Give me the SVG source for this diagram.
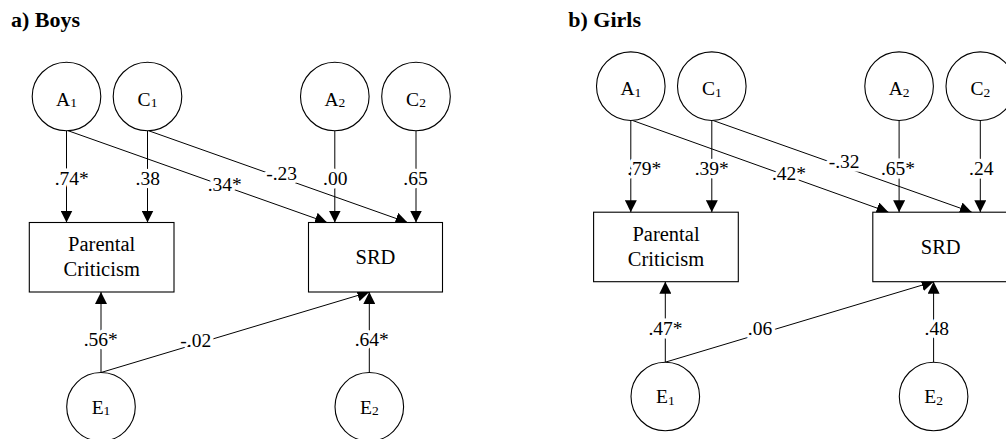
<svg xmlns="http://www.w3.org/2000/svg" width="1006" height="439" viewBox="0 0 1006 439">
  <style>
    .title { font-family: "Liberation Serif", "Times New Roman", serif; font-weight: bold; font-size: 22px; fill: #000; }
    .node { fill: #fff; stroke: #000; stroke-width: 1.1; }
    .lat { font-family: "Liberation Serif", "Times New Roman", serif; font-size: 19.5px; fill: #000; text-anchor: middle; }
    .sub { font-size: 13.5px; }
    .box { font-family: "Liberation Serif", "Times New Roman", serif; font-size: 20.5px; fill: #000; text-anchor: middle; }
    .path { stroke: #000; stroke-width: 1; fill: none; marker-end: url(#arrow); }
    .coef { font-family: "Liberation Serif", "Times New Roman", serif; font-size: 19.5px; fill: #000; text-anchor: middle;
            stroke: #fff; stroke-width: 7; stroke-linejoin: round; paint-order: stroke; }
  </style>
  <defs>
    <marker id="arrow" markerUnits="userSpaceOnUse" markerWidth="12" markerHeight="12" refX="12" refY="6" orient="auto">
      <path d="M0,0 L12,6 L0,12 z" fill="#000"/>
    </marker>
  </defs>
  <rect width="1006" height="439" fill="#fff"/>

  <!-- Panel a: boys -->
  <text class="title" x="11" y="27">a) Boys</text>

  <g id="boys-connectors">
    <line class="path" x1="66.5" y1="130.8" x2="66.5" y2="222.5"/>
    <line class="path" x1="147.5" y1="130.8" x2="147.5" y2="222.5"/>
    <line class="path" x1="334.8" y1="130.8" x2="334.8" y2="222.5"/>
    <line class="path" x1="416" y1="130.8" x2="416" y2="222.5"/>
    <line class="path" x1="68" y1="130.7" x2="327" y2="222.5"/>
    <line class="path" x1="148.5" y1="130.7" x2="407.5" y2="222.5"/>
    <line class="path" x1="101" y1="372.5" x2="101" y2="292"/>
    <line class="path" x1="101" y1="372.5" x2="369.3" y2="292"/>
    <line class="path" x1="369.3" y1="372.5" x2="369.3" y2="292"/>
    <text class="coef" x="71.7" y="185">.74*</text>
    <text class="coef" x="147.8" y="185">.38</text>
    <text class="coef" x="224.7" y="190.7">.34*</text>
    <text class="coef" x="281.7" y="180">-.23</text>
    <text class="coef" x="335.2" y="185">.00</text>
    <text class="coef" x="415.5" y="185">.65</text>
    <text class="coef" x="100.8" y="345.7">.56*</text>
    <text class="coef" x="195.8" y="346.7">-.02</text>
    <text class="coef" x="371.8" y="345.7">.64*</text>
  </g>

  <g id="boys-A1">
    <circle class="node" cx="66.5" cy="96.5" r="34.3"/>
    <text class="lat" x="66.5" y="105.5">A<tspan class="sub" dy="1.5">1</tspan></text>
  </g>
  <g id="boys-C1">
    <circle class="node" cx="147.5" cy="96.5" r="34.3"/>
    <text class="lat" x="147.5" y="105.5">C<tspan class="sub" dy="1.5">1</tspan></text>
  </g>
  <g id="boys-A2">
    <circle class="node" cx="334.8" cy="96.5" r="34.3"/>
    <text class="lat" x="334.8" y="105.5">A<tspan class="sub" dy="1.5">2</tspan></text>
  </g>
  <g id="boys-C2">
    <circle class="node" cx="416" cy="96.5" r="34.3"/>
    <text class="lat" x="416" y="105.5">C<tspan class="sub" dy="1.5">2</tspan></text>
  </g>
  <g id="boys-parental-criticism">
    <rect class="node" x="29.3" y="222.5" width="144.7" height="69.5"/>
    <text class="box" x="101.7" y="251">Parental</text>
    <text class="box" x="101.7" y="276">Criticism</text>
  </g>
  <g id="boys-SRD">
    <rect class="node" x="308.5" y="222.5" width="134" height="69.5"/>
    <text class="box" x="375.5" y="264">SRD</text>
  </g>
  <g id="boys-E1">
    <circle class="node" cx="101" cy="406.8" r="34.3"/>
    <text class="lat" x="101" y="413.5">E<tspan class="sub" dy="1.5">1</tspan></text>
  </g>
  <g id="boys-E2">
    <circle class="node" cx="369.3" cy="406.8" r="34.3"/>
    <text class="lat" x="369.3" y="413.5">E<tspan class="sub" dy="1.5">2</tspan></text>
  </g>

  <!-- Panel b: girls -->
  <text class="title" x="568.3" y="27">b) Girls</text>

  <g id="girls-connectors">
    <line class="path" x1="630.8" y1="120.5" x2="630.8" y2="212.2"/>
    <line class="path" x1="711.8" y1="120.5" x2="711.8" y2="212.2"/>
    <line class="path" x1="899.1" y1="120.5" x2="899.1" y2="212.2"/>
    <line class="path" x1="980.3" y1="120.5" x2="980.3" y2="212.2"/>
    <line class="path" x1="632.3" y1="120.4" x2="888.5" y2="212.2"/>
    <line class="path" x1="712.8" y1="120.4" x2="971.8" y2="212.2"/>
    <line class="path" x1="665.3" y1="362.2" x2="665.3" y2="281.7"/>
    <line class="path" x1="665.3" y1="362.2" x2="933.6" y2="281.7"/>
    <line class="path" x1="933.6" y1="362.2" x2="933.6" y2="281.7"/>
    <text class="coef" x="644.2" y="175">.79*</text>
    <text class="coef" x="711.8" y="175">.39*</text>
    <text class="coef" x="789" y="180">.42*</text>
    <text class="coef" x="844.2" y="168.3">-.32</text>
    <text class="coef" x="898" y="175">.65*</text>
    <text class="coef" x="981.3" y="175">.24</text>
    <text class="coef" x="665.5" y="335">.47*</text>
    <text class="coef" x="760" y="335">.06</text>
    <text class="coef" x="936.7" y="335">.48</text>
  </g>

  <g id="girls-A1">
    <circle class="node" cx="630.8" cy="86.2" r="34.3"/>
    <text class="lat" x="630.8" y="95">A<tspan class="sub" dy="1.5">1</tspan></text>
  </g>
  <g id="girls-C1">
    <circle class="node" cx="711.8" cy="86.2" r="34.3"/>
    <text class="lat" x="711.8" y="95">C<tspan class="sub" dy="1.5">1</tspan></text>
  </g>
  <g id="girls-A2">
    <circle class="node" cx="899.1" cy="86.2" r="34.3"/>
    <text class="lat" x="899.1" y="95">A<tspan class="sub" dy="1.5">2</tspan></text>
  </g>
  <g id="girls-C2">
    <circle class="node" cx="980.3" cy="86.2" r="34.3"/>
    <text class="lat" x="980.3" y="95">C<tspan class="sub" dy="1.5">2</tspan></text>
  </g>
  <g id="girls-parental-criticism">
    <rect class="node" x="593.6" y="212.2" width="144.7" height="69.5"/>
    <text class="box" x="666" y="241">Parental</text>
    <text class="box" x="666" y="266">Criticism</text>
  </g>
  <g id="girls-SRD">
    <rect class="node" x="872.8" y="212.2" width="134" height="69.5"/>
    <text class="box" x="940.7" y="253.5">SRD</text>
  </g>
  <g id="girls-E1">
    <circle class="node" cx="665.3" cy="396.5" r="34.3"/>
    <text class="lat" x="665.3" y="403">E<tspan class="sub" dy="1.5">1</tspan></text>
  </g>
  <g id="girls-E2">
    <circle class="node" cx="933.6" cy="396.5" r="34.3"/>
    <text class="lat" x="933.6" y="403">E<tspan class="sub" dy="1.5">2</tspan></text>
  </g>
</svg>
